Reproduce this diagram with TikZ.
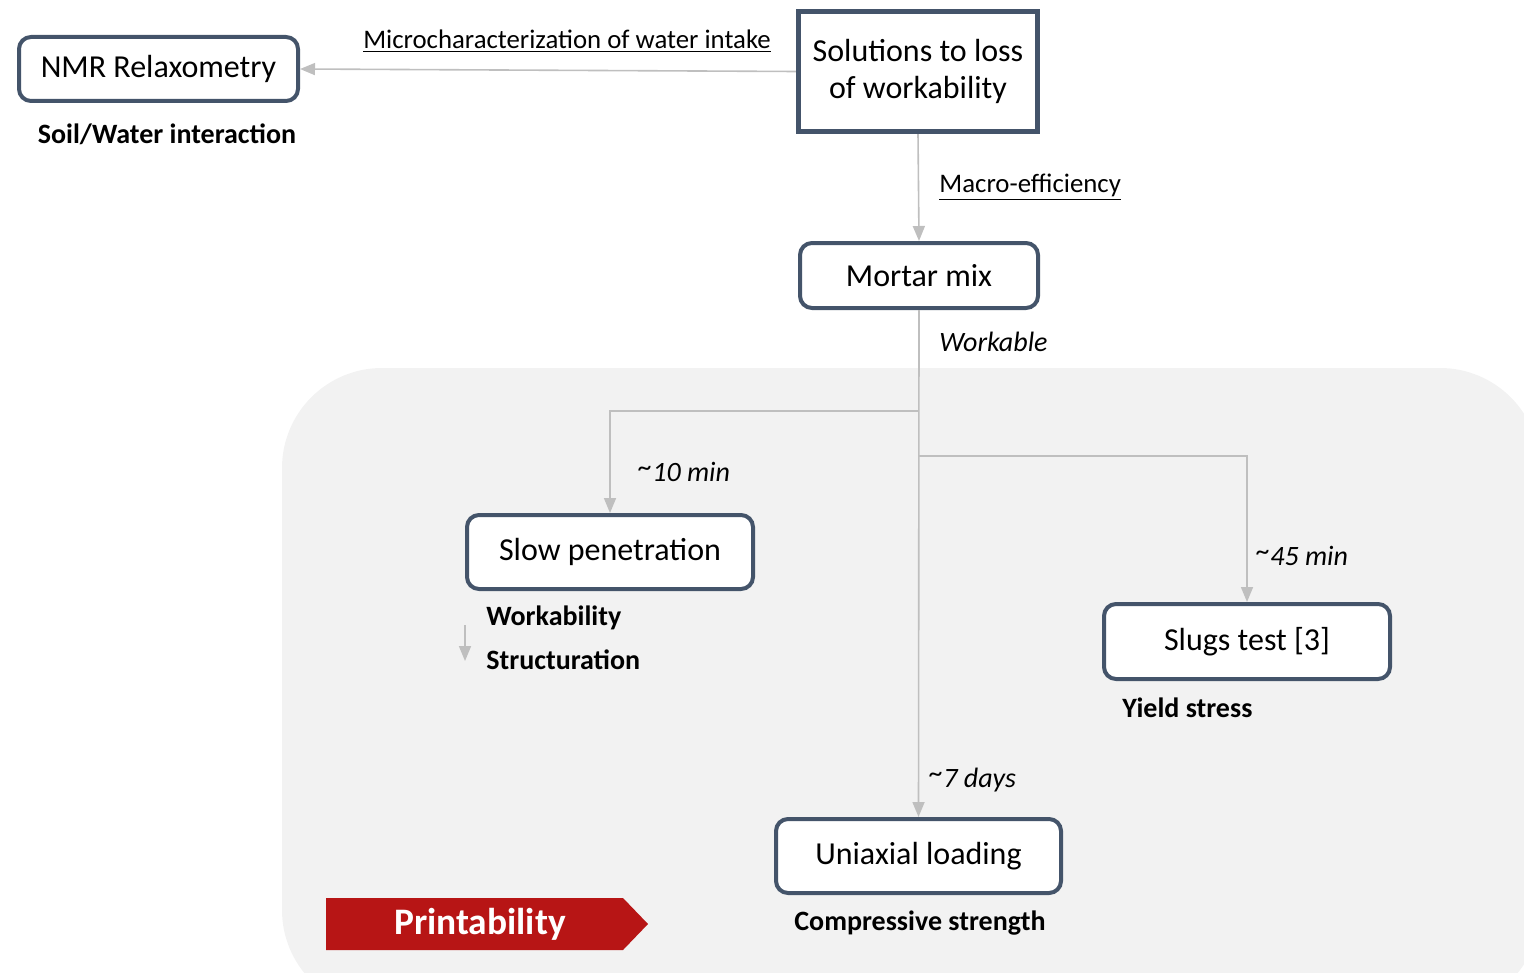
\documentclass[tikz,border=0pt]{standalone}
\usepackage{fontspec}
\setmainfont{Carlito}
\usetikzlibrary{arrows.meta,positioning}
\definecolor{frame}{HTML}{44546A}
\definecolor{link}{HTML}{BFBFBF}
\definecolor{zone}{HTML}{F2F2F2}
\definecolor{tagred}{HTML}{B71515}
\newcommand{\approxsign}{\raisebox{0.35ex}{\textasciitilde}}
\tikzset{
  box/.style={draw=frame, line width=2pt, rounded corners=6pt, fill=white,
              align=center, inner sep=2pt, font=\fontsize{16}{18.5}\selectfont},
  conn/.style={draw=link, line width=0.8pt,
               -{Triangle[length=7.5pt,width=6pt]}},
  note/.style={font=\fontsize{13.4}{16}\selectfont, inner sep=0pt},
  keyw/.style={note, font=\fontsize{14}{16}\selectfont\bfseries},
  lapse/.style={note, font=\fontsize{14}{16}\selectfont\itshape, anchor=west},
}

\begin{document}
\begin{tikzpicture}[x=0.5pt, y=-0.5pt]
  \useasboundingbox (0,0) rectangle (1524,973);

  % --- zone grise : printability ---
  \begin{scope}
    \clip (0,0) rectangle (1524,973);
    \fill[zone, rounded corners=50pt] (282,368) rectangle (1540,1010);
  \end{scope}

  % --- boites ---
  \node[box, rounded corners=0pt, line width=2.6pt, minimum width=119.5pt,
        minimum height=60pt] (sol) at (918,71.5) {Solutions to loss\\of workability};
  \node[box, minimum width=139.5pt, minimum height=32pt] (nmr) at (158.5,69) {NMR Relaxometry};
  \node[box, minimum width=119pt, minimum height=32.5pt] (mortar) at (919,275.5) {Mortar mix};
  \node[box, minimum width=143pt, minimum height=37pt] (slow) at (610,552) {Slow penetration};
  \node[box, minimum width=143pt, minimum height=37.5pt] (slugs) at (1247,641.5) {Slugs test [3]};
  \node[box, minimum width=142.5pt, minimum height=37pt] (uni) at (918.5,856) {Uniaxial loading};

  % --- liens ---
  \draw[conn] (sol.west) -- (nmr.east);
  \draw[conn] (sol.south) -- (mortar.north);
  \draw[conn] (mortar.south) -- (uni.north);
  \coordinate (splitA) at (918,411);
  \coordinate (splitB) at (918,456);
  \draw[conn] (splitA) -| (slow.north);
  \draw[conn] (splitB) -| (slugs.north);

  % --- etiquettes des liens ---
  \node[note] (micro) at (567,41) {\underline{Microcharacterization of water intake}};
  \node[note, anchor=west] (macro) at (939,187) {\underline{Macro-efficiency}};
  \node[lapse] (workable) at (939,342) {Workable};
  \node[lapse] (tten) at (638,472) {\approxsign10 min};
  \node[lapse] (tfortyfive) at (1256,556) {\approxsign45 min};
  \node[lapse] (tseven) at (929,780) {\approxsign7 days};

  % --- proprietes mesurees ---
  \node[keyw] (soil) at (167,134) {Soil/Water interaction};
  \node[keyw, anchor=west] (wkb) at (486,618) {Workability};
  \node[keyw, anchor=west] (struct) at (486,660) {Structuration};
  \coordinate (wtop) at (465,625);
  \coordinate (wbot) at (465,661);
  \draw[conn] (wtop) -- (wbot);
  \node[keyw, anchor=west] (yield) at (1122,708) {Yield stress};
  \node[keyw] (comp) at (920,923) {Compressive strength};

  % --- bandeau Printability ---
  \fill[tagred] (326,898) -- (623,898) -- (648,924) -- (623,950) -- (326,950) -- cycle;
  \node[font=\fontsize{18.7}{20}\selectfont\bfseries, text=white, inner sep=0pt]
       (print) at (480,924) {Printability};
\end{tikzpicture}
\end{document}
